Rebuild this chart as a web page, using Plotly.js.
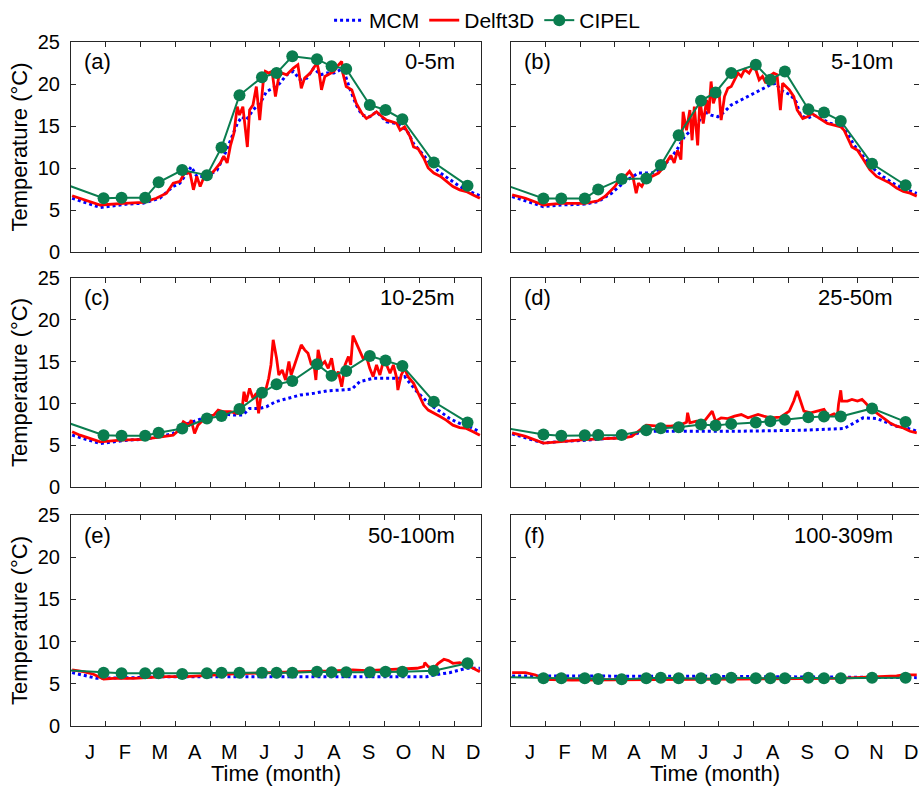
<!DOCTYPE html>
<html>
<head>
<meta charset="utf-8">
<script src="https://cdn.plot.ly/plotly-3.0.1.min.js"></script>
<style>html,body{margin:0;padding:0;background:#fff;}</style>
</head>
<body>
<div id="chart" style="width:919px;height:786px;"></div>
<script>
// ---------------- DATA ----------------
const monthLabels = ['J','F','M','A','M','J','J','A','S','O','N','D'];
const monthLabelDays = [17,48,79,110,141,172,203,234,265,296,327,358];
const monthBoundaryDays = [31,62,93,124,155,186,217,248,279,310,341];
const yTicks = [0,5,10,15,20,25];

const panelLetters = ['(a)','(b)','(c)','(d)','(e)','(f)'];
const depthLabels = ['0-5m','5-10m','10-25m','25-50m','50-100m','100-309m'];

// CIPEL sampling days (day of year); first entry is the previous December sample
const cipelDays = [-14,29,45,66,78,99,121,134,150,170,183,197,219,232,245,266,280,295,323,353];
const cipelA = [8.5,6.4,6.45,6.45,8.3,9.75,9.15,12.45,18.65,20.8,21.3,23.3,22.95,22.1,21.8,17.5,16.9,15.8,10.65,7.9];
const cipelB = [8.4,6.37,6.37,6.37,7.45,8.7,8.75,10.35,13.9,18.0,19.0,21.3,22.3,20.5,21.5,17.0,16.6,15.6,10.5,7.95];
const cipelC = [8.2,6.2,6.12,6.12,6.48,7.0,8.2,8.48,9.32,11.28,12.28,12.68,14.68,13.32,13.88,15.68,15.12,14.48,10.2,7.72];
const cipelD = [7.27,6.27,6.14,6.18,6.22,6.22,6.79,7.03,7.15,7.47,7.35,7.55,7.71,7.87,8.03,8.35,8.43,8.43,9.40,7.79];
const cipelE = [6.68,6.32,6.25,6.25,6.25,6.17,6.25,6.32,6.32,6.32,6.32,6.32,6.44,6.36,6.36,6.36,6.44,6.44,6.56,7.43];
const cipelF = [5.83,5.65,5.65,5.65,5.57,5.53,5.65,5.73,5.65,5.65,5.57,5.73,5.65,5.65,5.65,5.73,5.65,5.65,5.73,5.73];

// Delft3D model, [day, temperature]
const delftA = [[1,6.7],[26,5.6],[47,5.8],[64,5.9],[76,6.4],[85,7.0],[91,8.2],[97,8.4],[101,9.4],[106,9.4],[109,7.4],[112,9.0],[115,7.8],[118,8.8],[122,9.0],[127,9.6],[133,10.6],[136,11.4],[139,10.6],[142,12.7],[145,14.1],[148,17.3],[150,16.3],[153,17.3],[155,14.9],[157,12.5],[159,16.9],[162,17.5],[165,19.7],[168,15.7],[171,20.1],[173,21.5],[176,21.3],[179,21.5],[182,18.5],[185,20.9],[188,21.3],[192,21.1],[198,21.9],[202,22.3],[205,19.5],[208,20.7],[213,21.3],[216,21.9],[219,22.5],[221,21.3],[223,19.3],[226,20.9],[229,21.1],[234,21.5],[237,22.1],[241,22.7],[242,21.3],[245,19.7],[250,19.3],[254,17.7],[259,16.5],[263,15.9],[268,16.3],[272,16.7],[277,16.1],[281,15.7],[286,15.5],[290,15.3],[293,14.5],[297,14.9],[302,13.7],[305,12.5],[309,12.3],[314,11.2],[318,10.0],[323,9.4],[329,9.0],[334,8.4],[340,7.8],[346,7.4],[352,7.2],[358,6.8],[364,6.4]];
const delftB = [[1,6.8],[13,6.4],[29,5.6],[45,5.8],[66,5.8],[78,6.1],[84,6.6],[90,7.4],[93,7.8],[96,8.4],[102,9.0],[106,9.6],[109,9.0],[112,7.0],[114,8.2],[117,7.8],[120,8.6],[126,9.0],[132,9.4],[136,10.0],[140,10.8],[143,11.5],[146,10.6],[149,12.1],[152,11.0],[154,16.7],[157,14.5],[160,16.9],[162,13.3],[164,17.3],[167,12.7],[169,18.1],[172,15.3],[175,18.1],[177,16.5],[179,20.3],[181,17.7],[183,18.5],[186,19.3],[188,15.7],[191,18.5],[194,19.5],[197,19.7],[200,20.5],[203,21.3],[206,20.9],[209,21.7],[213,21.3],[216,22.0],[219,21.7],[222,20.5],[225,20.9],[228,20.1],[231,20.9],[235,21.3],[238,21.1],[241,16.9],[243,20.1],[246,19.7],[249,19.3],[253,18.5],[256,16.9],[261,15.9],[265,16.1],[269,16.5],[274,16.1],[278,15.7],[283,15.3],[289,15.1],[295,14.9],[298,14.5],[301,13.7],[305,12.5],[310,12.1],[315,11.0],[321,9.8],[327,9.0],[333,8.6],[339,8.2],[345,7.6],[351,7.2],[357,7.0],[363,6.65]];
const delftC = [[1,6.6],[8,6.2],[26,5.4],[44,5.6],[64,5.7],[79,6.0],[91,6.2],[96,6.8],[100,7.8],[105,7.4],[107,8.0],[110,6.4],[113,7.4],[116,7.8],[121,8.4],[127,8.6],[131,9.2],[136,9.0],[142,9.0],[148,8.8],[152,9.0],[154,11.4],[156,10.2],[159,11.8],[162,10.6],[165,11.2],[167,8.8],[170,11.8],[173,11.4],[176,13.0],[178,14.6],[180,17.6],[183,15.4],[185,13.4],[188,14.0],[191,12.8],[194,15.0],[196,13.4],[199,14.6],[202,15.8],[205,17.0],[208,16.4],[211,16.0],[214,14.6],[216,15.0],[218,12.8],[220,16.4],[223,14.6],[226,15.0],[229,14.2],[232,15.4],[235,13.0],[238,13.8],[241,12.0],[244,14.6],[247,15.6],[249,14.6],[251,18.1],[254,17.2],[257,16.2],[260,15.4],[263,15.6],[266,14.2],[269,13.2],[272,14.6],[275,13.4],[278,15.0],[281,14.6],[284,13.6],[287,14.6],[290,13.0],[291,11.6],[294,13.4],[297,14.2],[300,13.2],[305,12.4],[309,11.2],[314,9.8],[318,9.2],[324,8.8],[329,8.4],[334,8.0],[340,7.4],[346,7.1],[352,7.0],[358,6.6],[364,6.2]];
const delftD = [[1,6.47],[13,6.06],[29,5.26],[45,5.46],[66,5.66],[84,5.78],[99,5.86],[108,6.06],[114,6.67],[121,7.39],[132,7.27],[143,7.27],[152,7.47],[157,7.75],[158,8.88],[160,7.67],[166,7.87],[173,7.87],[180,9.08],[183,7.87],[188,8.27],[194,8.19],[200,8.47],[206,8.67],[212,8.27],[221,8.67],[226,8.47],[232,8.27],[241,8.35],[249,9.08],[253,10.28],[256,11.49],[259,10.28],[262,9.08],[268,8.88],[274,9.08],[280,9.28],[284,8.47],[289,8.75],[292,8.47],[293,9.88],[295,11.57],[296,10.28],[301,10.28],[305,10.48],[310,10.28],[314,10.48],[317,10.08],[321,9.48],[327,8.88],[333,8.27],[339,7.67],[345,7.27],[351,7.07],[357,6.67],[363,6.47]];
const delftE = [[1,6.64],[11,6.44],[20,6.13],[29,5.57],[38,5.65],[56,5.65],[71,5.77],[85,5.85],[103,5.85],[115,5.97],[130,6.05],[145,6.17],[160,6.25],[174,6.32],[189,6.36],[204,6.44],[234,6.52],[251,6.64],[263,6.56],[278,6.64],[293,6.72],[308,6.84],[314,7.04],[315,7.51],[318,7.04],[323,6.84],[327,7.43],[332,7.91],[336,7.75],[340,7.43],[346,7.51],[352,7.23],[358,6.84],[364,6.44]];
const delftF = [[1,6.32],[13,6.32],[22,6.05],[28,5.53],[54,5.45],[114,5.53],[203,5.57],[292,5.65],[321,5.77],[345,5.93],[351,6.05],[363,6.05]];

// MCM model, [day, temperature]
const mcmA = [[1,6.4],[26,5.3],[50,5.7],[64,5.8],[79,6.4],[91,7.8],[97,8.2],[107,10.15],[112,9.0],[121,9.0],[130,9.75],[136,11.35],[142,13.3],[148,15.3],[152,16.1],[156,15.7],[161,16.7],[165,17.3],[170,18.1],[174,19.1],[180,19.5],[186,20.1],[192,21.1],[198,21.5],[204,20.5],[210,20.7],[216,21.9],[222,21.1],[228,21.3],[234,21.3],[240,21.7],[244,21.1],[248,19.5],[254,17.5],[259,16.3],[266,16.1],[272,16.7],[281,15.5],[290,15.3],[299,14.5],[305,12.9],[314,11.5],[320,10.5],[329,9.4],[337,8.6],[346,7.8],[355,7.2],[364,6.7]];
const mcmB = [[1,6.6],[29,5.4],[45,5.6],[66,5.7],[78,6.0],[90,7.0],[102,8.4],[114,9.4],[126,9.4],[134,9.95],[143,11.15],[149,12.3],[155,13.7],[161,14.5],[167,15.3],[173,16.7],[179,16.3],[185,16.1],[191,16.7],[197,17.5],[203,17.9],[209,18.3],[215,18.7],[221,19.1],[226,19.5],[232,19.9],[237,20.1],[241,19.3],[247,18.9],[250,18.7],[255,17.9],[259,16.3],[265,15.9],[271,16.3],[277,15.9],[286,15.3],[295,15.1],[301,14.1],[307,12.7],[315,11.35],[324,9.95],[333,8.96],[342,8.16],[351,7.56],[363,6.97]];
const mcmC = [[1,6.2],[26,5.2],[50,5.6],[64,5.7],[79,6.0],[91,6.4],[100,7.4],[109,7.8],[121,8.4],[133,8.8],[145,8.6],[153,8.6],[159,9.4],[168,9.4],[174,9.6],[182,10.2],[192,10.6],[204,11.0],[216,11.2],[228,11.5],[240,11.6],[250,11.7],[257,12.6],[263,12.8],[269,13.0],[281,13.0],[293,13.0],[297,13.2],[302,12.4],[308,11.4],[314,10.6],[320,9.8],[329,9.0],[337,8.2],[346,7.6],[355,7.2],[364,6.6]];
const mcmD = [[1,6.35],[29,5.26],[45,5.46],[66,5.58],[84,5.78],[102,5.94],[114,6.47],[126,6.67],[203,6.67],[262,6.79],[298,6.99],[304,7.47],[310,7.95],[315,8.27],[327,8.19],[333,7.87],[345,7.27],[354,7.07],[363,6.67]];
const mcmE = [[1,6.32],[23,5.65],[56,5.73],[85,5.85],[317,5.85],[323,6.05],[337,6.32],[352,6.84],[364,6.84]];
const mcmF = [[1,5.93],[173,5.89],[363,5.73]];

// ---------------- STYLE ----------------
const FONT = '"Liberation Sans", Arial, Helvetica, sans-serif';
const blue = '#0000ff', red = '#ff0000', green = '#0a7d4f';
const axisColor = '#262626';

const panels = [
  {mcm: mcmA, delft: delftA, cipel: cipelA},
  {mcm: mcmB, delft: delftB, cipel: cipelB},
  {mcm: mcmC, delft: delftC, cipel: cipelC},
  {mcm: mcmD, delft: delftD, cipel: cipelD},
  {mcm: mcmE, delft: delftE, cipel: cipelE},
  {mcm: mcmF, delft: delftF, cipel: cipelF}
];

const W = 919, H = 786;
const colX = [[71/W, 481/W], [511/W, 1.0]];
const rowY = [[1-252/H, 1-42/H], [1-487/H, 1-278/H], [1-726/H, 1-515/H]];

const data = [];
const layout = {
  width: W, height: H, autosize: false,
  margin: {l:0, r:0, t:0, b:0, pad:0},
  paper_bgcolor: '#ffffff', plot_bgcolor: '#ffffff',
  font: {family: FONT, size: 20, color: '#000'},
  showlegend: true,
  legend: {orientation: 'h', x: 0.53, xanchor: 'center', y: 1.0, yanchor: 'top',
           font: {family: FONT, size: 21, color: '#000'}, bgcolor: 'rgba(0,0,0,0)',
           itemwidth: 30, tracegroupgap: 0},
  annotations: []
};

panels.forEach((p, i) => {
  const n = i + 1;
  const xs = n === 1 ? 'x' : 'x' + n;
  const ys = n === 1 ? 'y' : 'y' + n;
  const col = i % 2, row = Math.floor(i / 2);
  const first = i === 0;
  data.push({
    type: 'scatter', mode: 'lines', name: 'MCM', legendgroup: 'mcm', showlegend: first,
    x: p.mcm.map(d => d[0]), y: p.mcm.map(d => d[1]),
    line: {color: blue, width: 3, dash: 'dot'}, xaxis: xs, yaxis: ys, hoverinfo: 'skip'
  });
  data.push({
    type: 'scatter', mode: 'lines', name: 'Delft3D', legendgroup: 'delft', showlegend: first,
    x: p.delft.map(d => d[0]), y: p.delft.map(d => d[1]),
    line: {color: red, width: 2.8}, xaxis: xs, yaxis: ys, hoverinfo: 'skip'
  });
  data.push({
    type: 'scatter', mode: 'lines+markers', name: 'CIPEL', legendgroup: 'cipel', showlegend: first,
    x: cipelDays, y: p.cipel,
    line: {color: green, width: 2}, marker: {color: green, size: 12},
    xaxis: xs, yaxis: ys, hoverinfo: 'skip', cliponaxis: true
  });

  const xname = n === 1 ? 'xaxis' : 'xaxis' + n;
  const yname = n === 1 ? 'yaxis' : 'yaxis' + n;
  layout[xname] = {
    domain: colX[col], anchor: ys, range: [0, 365], fixedrange: true,
    showline: true, linecolor: axisColor, linewidth: 1, mirror: 'ticks',
    showgrid: false, zeroline: false,
    tickmode: 'array', tickvals: monthLabelDays, ticktext: monthLabels,
    ticks: 'inside', ticklen: 0, tickcolor: axisColor,
    minor: {tickmode: 'array', tickvals: monthBoundaryDays, ticks: 'inside', ticklen: 5, tickcolor: axisColor, showgrid: false},
    showticklabels: row === 2,
    tickfont: {family: FONT, size: 20, color: '#000'},
    ticklabelstandoff: 8,
    title: row === 2 ? {text: 'Time (month)', font: {family: FONT, size: 22, color: '#000'}, standoff: 6} : {text: ''}
  };
  layout[yname] = {
    domain: rowY[row], anchor: xs, range: [0, 25], fixedrange: true,
    showline: true, linecolor: axisColor, linewidth: 1, mirror: 'ticks',
    showgrid: false, zeroline: false,
    tickmode: 'array', tickvals: yTicks,
    ticks: 'inside', ticklen: 5, tickcolor: axisColor,
    showticklabels: col === 0,
    tickfont: {family: FONT, size: 20, color: '#000'},
    ticklabelstandoff: 6,
    title: col === 0 ? {text: 'Temperature (°C)', font: {family: FONT, size: 22, color: '#000'}, standoff: 4} : {text: ''}
  };
  layout.annotations.push({
    xref: xs + ' domain', yref: ys + ' domain', x: 0.027, y: 0.905,
    xanchor: 'left', yanchor: 'middle', showarrow: false,
    text: panelLetters[i], font: {family: FONT, size: 22, color: '#000'}
  });
  layout.annotations.push({
    xref: xs + ' domain', yref: ys + ' domain', x: 0.941, y: 0.905,
    xanchor: 'right', yanchor: 'middle', showarrow: false,
    text: depthLabels[i], font: {family: FONT, size: 22, color: '#000'}
  });
});

Plotly.newPlot('chart', data, layout, {displayModeBar: false, staticPlot: true});
</script>
</body>
</html>
